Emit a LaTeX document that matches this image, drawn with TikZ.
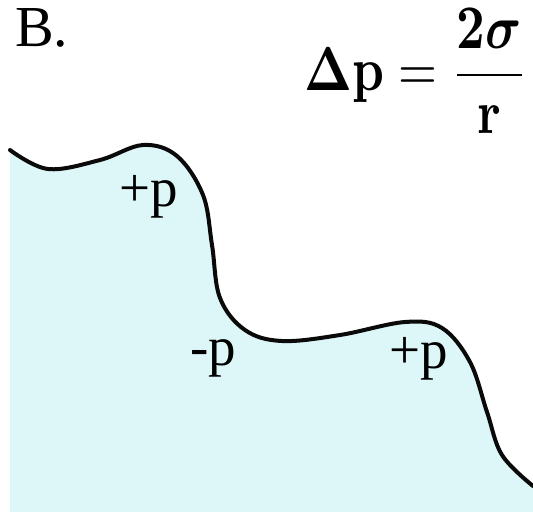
\documentclass[tikz,border=0pt]{standalone}
\usepackage{amsmath}
\usepackage{graphicx}
\usepackage[no-math]{fontspec}
\newfontfamily\labelfont{Liberation Serif}
\usepackage{tikz}
\definecolor{mywater}{RGB}{221,246,248}
\definecolor{mydark}{RGB}{10,10,10}
\tikzset{
  surface/.style={line width=4pt, color=mydark, line cap=round, line join=round},
  plabel/.style={font=\labelfont\fontsize{55}{66}\selectfont, inner sep=0pt, anchor=base west},
  tagstyle/.style={font=\labelfont\fontsize{58}{70}\selectfont, inner sep=0pt, anchor=base west},
  lawstyle/.style={inner sep=0pt}
}

\begin{document}
\begin{tikzpicture}[x=1pt, y=-1pt]
  \useasboundingbox (0,0) rectangle (533,515);

  % liquid
  \fill[mywater] (10,512) -- plot[smooth, tension=0.6] coordinates {
    (10,150) (48,169) (100,160) (143,145) (177,156) (203,195) (212,245)
    (220,298) (245,330) (282,341) (340,335) (405,322) (442,328) (470,362)
    (487,412) (502,455) (533,486)} -- (533,512) -- cycle;
  \draw[surface] plot[smooth, tension=0.6] coordinates {
    (10,150) (48,169) (100,160) (143,145) (177,156) (203,195) (212,245)
    (220,298) (245,330) (282,341) (340,335) (405,322) (442,328) (470,362)
    (487,412) (502,455) (533,486)};

  % labels
  \node[tagstyle] (tag) at (15,46) {B.};
  \node[lawstyle] (law) at (416,71) {\scalebox{5}[6.2]{$\displaystyle \boldsymbol{\Delta}\mathbf{p} = \frac{\mathbf{2}\boldsymbol{\sigma}\rule[-2pt]{0pt}{2pt}}{\rule{0pt}{6.2pt}\mathbf{r}}$}};
  \node[plabel] (pa) at (119,206) {+p};
  \node[plabel] (pb) at (190,365) {-p};
  \node[plabel] (pc) at (389,368) {+p};
\end{tikzpicture}
\end{document}
